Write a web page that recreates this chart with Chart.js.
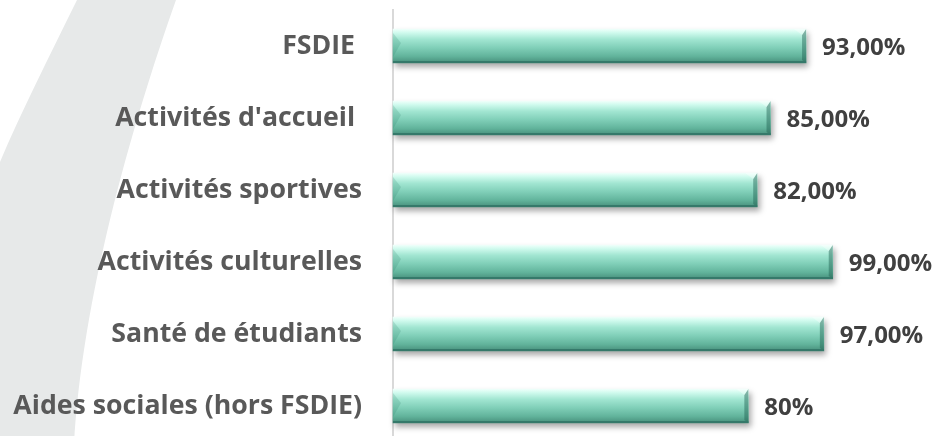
<!DOCTYPE html>
<html>
<head>
<meta charset="utf-8">
<script src="https://cdn.jsdelivr.net/npm/chart.js@4.4.1/dist/chart.umd.min.js"></script>
<style>
  html, body { margin: 0; padding: 0; background: #ffffff; overflow: hidden; }
  canvas { display: block; }
</style>
</head>
<body>
<canvas id="barChart" width="936" height="446"></canvas>
<script>
// Chart data
const categories = [
  'FSDIE ',
  "Activités d'accueil ",
  'Activités sportives',
  'Activités culturelles',
  'Santé de étudiants',
  'Aides sociales (hors FSDIE)',
];
const satisfaction = [93, 85, 82, 99, 97, 80];
const valueLabels = ['93,00%', '85,00%', '82,00%', '99,00%', '97,00%', '80%'];

const BAR_THICKNESS = 34;

// Grey swoosh in the background, on the left
const swooshPlugin = {
  id: 'swoosh',
  beforeDraw(chart) {
    const ctx = chart.ctx;
    ctx.save();
    ctx.fillStyle = '#e7e9e9';
    ctx.beginPath();
    ctx.moveTo(77, 0);
    ctx.lineTo(176, 0);
    ctx.bezierCurveTo(130, 130, 82, 300, 74, 446);
    ctx.lineTo(0, 446);
    ctx.lineTo(0, 162);
    ctx.bezierCurveTo(22, 110, 50, 55, 77, 0);
    ctx.closePath();
    ctx.fill();
    ctx.restore();
  },
};

// Soft shadow under the bars
const shadowPlugin = {
  id: 'barShadow',
  beforeDatasetDraw(chart) {
    const ctx = chart.ctx;
    ctx.save();
    ctx.shadowColor = 'rgba(0, 0, 0, 0.35)';
    ctx.shadowBlur = 6;
    ctx.shadowOffsetX = 2;
    ctx.shadowOffsetY = 4;
  },
  afterDatasetDraw(chart) {
    chart.ctx.restore();
  },
};

// Bevel edges and value labels
const bevelLabelPlugin = {
  id: 'bevelLabels',
  afterDatasetsDraw(chart) {
    const ctx = chart.ctx;
    const meta = chart.getDatasetMeta(0);
    ctx.save();
    meta.data.forEach((bar, i) => {
      const left = bar.base;
      const right = bar.x;
      const top = bar.y - bar.height / 2;
      const bottom = bar.y + bar.height / 2;

      // left bevel
      ctx.fillStyle = 'rgba(40, 120, 100, 0.18)';
      ctx.beginPath();
      ctx.moveTo(left, top + 4);
      ctx.lineTo(left + 8, top + 14);
      ctx.lineTo(left, bottom - 6);
      ctx.closePath();
      ctx.fill();

      // right bevel
      ctx.fillStyle = 'rgba(30, 95, 80, 0.45)';
      ctx.beginPath();
      ctx.moveTo(right, top);
      ctx.lineTo(right, bottom);
      ctx.lineTo(right - 4, bottom - 3);
      ctx.lineTo(right - 4, top + 6);
      ctx.closePath();
      ctx.fill();
      ctx.fillStyle = 'rgba(255, 255, 255, 0.35)';
      ctx.beginPath();
      ctx.moveTo(right - 12, top);
      ctx.lineTo(right, top);
      ctx.lineTo(right - 4, top + 6);
      ctx.closePath();
      ctx.fill();

      // bottom dark edge
      ctx.fillStyle = '#35796a';
      ctx.fillRect(left, bottom - 2, right - left, 2);

      // value label
      ctx.fillStyle = '#404040';
      ctx.font = 'bold 24px "Open Sans"';
      ctx.textAlign = 'left';
      ctx.textBaseline = 'middle';
      ctx.fillText(valueLabels[i], right + 16, bar.y + 2);
    });
    ctx.restore();
  },
};

function barGradient(context) {
  const chart = context.chart;
  const yScale = chart.scales.y;
  if (!chart.chartArea || !yScale) {
    return '#80d6bd';
  }
  const yc = yScale.getPixelForValue(context.dataIndex);
  const g = chart.ctx.createLinearGradient(0, yc - BAR_THICKNESS / 2, 0, yc + BAR_THICKNESS / 2);
  g.addColorStop(0, '#f0fffb');
  g.addColorStop(0.1, '#d2fbef');
  g.addColorStop(0.3, '#a2e6d2');
  g.addColorStop(0.55, '#80cfb8');
  g.addColorStop(0.8, '#62b49c');
  g.addColorStop(1, '#478f7b');
  return g;
}

function createChart() {
  const ctx = document.getElementById('barChart').getContext('2d');
  /* global Chart */
  return new Chart(ctx, {
    type: 'bar',
    data: {
      labels: categories,
      datasets: [
        {
          data: satisfaction,
          backgroundColor: barGradient,
          borderWidth: 0,
          barThickness: BAR_THICKNESS,
          clip: false,
        },
      ],
    },
    options: {
      indexAxis: 'y',
      responsive: false,
      animation: false,
      layout: { padding: { top: 10, bottom: 4, left: 0, right: 10 } },
      plugins: {
        legend: { display: false },
        tooltip: { enabled: false },
      },
      scales: {
        x: {
          display: false,
          min: 0,
          max: 120,
        },
        y: {
          afterFit(scale) {
            scale.width = 393;
            scale.paddingTop = 0;
            scale.paddingBottom = 0;
          },
          grid: { display: false, drawTicks: false, tickLength: 0 },
          border: { display: true, color: '#d9d9d9', width: 2 },
          ticks: {
            padding: 31,
            color: '#595959',
            font: { family: '"Open Sans"', size: 26.7, weight: 'bold' },
          },
        },
      },
    },
    plugins: [swooshPlugin, shadowPlugin, bevelLabelPlugin],
  });
}

document.addEventListener('DOMContentLoaded', () => {
  Promise.all([
    document.fonts.load('bold 27px "Open Sans"'),
    document.fonts.load('bold 24px "Open Sans"'),
  ])
    .catch(() => {})
    .then(createChart);
});
</script>
</body>
</html>
